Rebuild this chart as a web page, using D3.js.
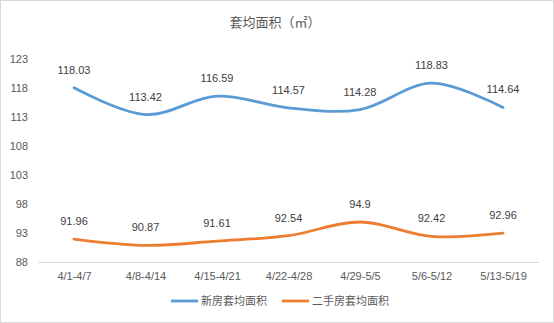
<!DOCTYPE html>
<html>
<head>
<meta charset="utf-8">
<script src="https://cdn.jsdelivr.net/npm/d3@7"></script>
<style>
  html, body { margin: 0; padding: 0; background: #fff; }
  svg { display: block; font-family: "Noto Sans CJK SC", "Liberation Sans", sans-serif; }
</style>
</head>
<body>
<script>
// Weekly average unit area (m²), new homes vs. resale homes
const weeks = ["4/1-4/7", "4/8-4/14", "4/15-4/21", "4/22-4/28", "4/29-5/5", "5/6-5/12", "5/13-5/19"];
const newHomeArea = [118.03, 113.42, 116.59, 114.57, 114.28, 118.83, 114.64];
const resaleArea = [91.96, 90.87, 91.61, 92.54, 94.9, 92.42, 92.96];
const yTicks = [88, 93, 98, 103, 108, 113, 118, 123];
const seriesNames = ["新房套均面积", "二手房套均面积"];
const colors = ["#5B9BD5", "#ED7D31"];
const titleText = "套均面积（㎡）";

const W = 554, H = 323;
const svg = d3.select("body").append("svg").attr("width", W).attr("height", H);

// chart frame
svg.append("rect").attr("x", 0.5).attr("y", 0.5).attr("width", W - 1).attr("height", H - 1)
  .attr("fill", "#fff").attr("stroke", "#d9d9d9");

svg.append("text").attr("x", 275).attr("y", 27).attr("text-anchor", "middle")
  .attr("font-size", 13).attr("fill", "#595959").text(titleText);

const x = d3.scalePoint().domain(weeks).range([74, 503]);
const y = d3.scaleLinear().domain([88, 123]).range([262, 59]);

// category axis
const xAxis = svg.append("g").attr("transform", "translate(0,262)")
  .call(d3.axisBottom(x).tickSize(0).tickPadding(10));
xAxis.select(".domain").attr("d", "M38,0.5H539").attr("stroke", "#d9d9d9");
xAxis.selectAll("text").attr("font-size", 11).attr("fill", "#595959")
  .attr("font-family", "'Liberation Sans', sans-serif");

// value axis labels
const yAxis = svg.append("g").attr("transform", "translate(28,0)")
  .call(d3.axisLeft(y).tickValues(yTicks).tickSize(0).tickPadding(0));
yAxis.select(".domain").remove();
yAxis.selectAll("text").attr("font-size", 11).attr("fill", "#595959")
  .attr("font-family", "'Liberation Sans', sans-serif");

const line = d3.line()
  .x((d, i) => x(weeks[i]))
  .y(d => y(d))
  .curve(d3.curveCardinal.tension(0));

[newHomeArea, resaleArea].forEach((vals, k) => {
  svg.append("path").datum(vals).attr("d", line)
    .attr("fill", "none").attr("stroke", colors[k])
    .attr("stroke-width", 2.8).attr("stroke-linecap", "round");
  svg.append("g").selectAll("text").data(vals).join("text")
    .attr("x", (d, i) => x(weeks[i]))
    .attr("y", d => y(d) - 14)
    .attr("text-anchor", "middle")
    .attr("font-size", 11).attr("fill", "#404040")
    .attr("font-family", "'Liberation Sans', sans-serif")
    .text(d => d);
});

// legend
const legend = svg.append("g").attr("transform", "translate(0,301)");
const legendX = [171, 282];
seriesNames.forEach((name, k) => {
  legend.append("line").attr("x1", legendX[k]).attr("x2", legendX[k] + 27)
    .attr("y1", 0).attr("y2", 0).attr("stroke", colors[k]).attr("stroke-width", 2.8);
  legend.append("text").attr("x", legendX[k] + 30).attr("y", 4)
    .attr("font-size", 11).attr("fill", "#595959").text(name);
});
</script>
</body>
</html>
